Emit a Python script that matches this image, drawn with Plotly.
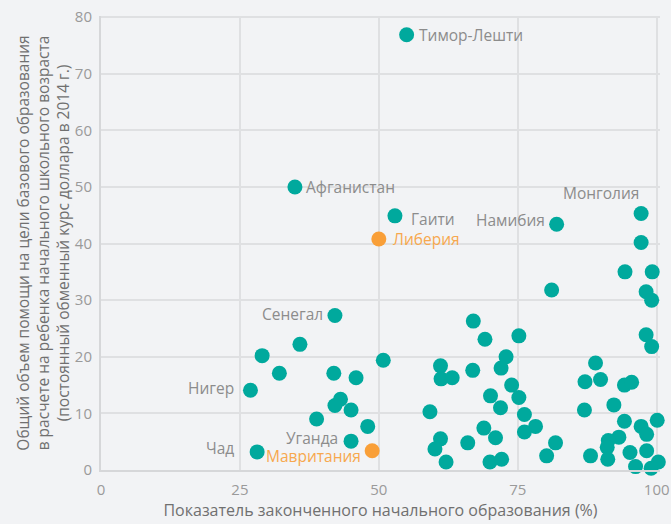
import plotly.graph_objects as go

# Teal series (countries)
teal_x = [55.0, 34.9, 52.9, 82.0, 97.2, 42.1, 26.9, 28.1, 45.0,
          35.8, 29.0, 32.1, 41.9, 45.9, 50.8, 43.1, 42.1, 45.0, 38.8, 48.0,
          67.0, 69.1, 75.2, 72.9, 72.0, 61.1, 61.2, 63.2, 66.9, 73.9, 70.1, 75.2,
          71.9, 59.2, 76.2, 78.2, 76.2, 68.9, 71.0, 61.1, 60.1, 66.0, 62.1, 70.0,
          72.1, 81.8, 80.2,
          81.1, 97.2, 94.3, 99.2, 98.1, 99.1, 98.1, 99.1, 89.0, 87.1, 89.9, 94.2,
          95.5, 92.3, 87.0, 94.2, 100.1, 97.2, 98.2, 93.2, 91.3, 91.1, 91.2, 88.1,
          95.2, 98.2, 96.2, 100.3, 99.0]
teal_y = [76.9, 50.0, 44.9, 43.4, 45.3, 27.3, 14.1, 3.2, 5.1,
          22.2, 20.2, 17.1, 17.1, 16.3, 19.4, 12.5, 11.4, 10.6, 9.0, 7.7,
          26.3, 23.1, 23.7, 20.0, 18.0, 18.4, 16.1, 16.3, 17.6, 15.0, 13.1, 12.8,
          11.0, 10.3, 9.8, 7.7, 6.7, 7.4, 5.7, 5.5, 3.7, 4.8, 1.4, 1.4,
          1.9, 4.8, 2.5,
          31.8, 40.2, 35.0, 35.0, 31.5, 30.0, 23.9, 21.8, 18.9, 15.6, 16.0, 15.0,
          15.5, 11.5, 10.6, 8.6, 8.8, 7.7, 6.3, 5.8, 5.2, 4.0, 1.9, 2.5,
          3.1, 3.4, 0.6, 1.4, 0.3]

# Orange (highlighted) series
orange_x = [50.0, 48.8]
orange_y = [40.8, 3.4]
orange_names = ["Либерия", "Мавритания"]

# Labels for teal points: name, x, y, side
teal_labels = [("Тимор-Лешти", 55.0, 76.9, "right"),
               ("Афганистан", 34.9, 50.0, "right"),
               ("Гаити", 52.9, 44.9, "right"),
               ("Намибия", 82.0, 43.4, "left"),
               ("Монголия", 97.2, 45.3, "top"),
               ("Сенегал", 42.1, 27.3, "left"),
               ("Нигер", 26.9, 14.1, "left"),
               ("Чад", 28.1, 3.2, "left"),
               ("Уганда", 45.0, 5.1, "left")]
orange_sides = ["right", "left"]

x_ticks = [0, 25, 50, 75, 100]
y_ticks = [0, 10, 20, 30, 40, 50, 60, 70, 80]

TEAL = "#00a99d"
ORANGE = "#f99f38"
GRAY_TXT = "#8c8c8c"
BG = "#f2f3f5"
FONT = "Open Sans"

fig = go.Figure()
fig.add_trace(go.Scatter(x=teal_x, y=teal_y, mode="markers", cliponaxis=False,
                         marker=dict(size=15, color=TEAL), hoverinfo="x+y"))
fig.add_trace(go.Scatter(x=orange_x, y=orange_y, mode="markers", cliponaxis=False,
                         marker=dict(size=15, color=ORANGE), hoverinfo="x+y"))

shifts = {
    "Тимор-Лешти": (10, 0), "Афганистан": (9, 0), "Гаити": (14, -3),
    "Намибия": (-10, 4), "Монголия": (0, 21), "Сенегал": (-10, 1),
    "Нигер": (-14, 2), "Чад": (-21, 4), "Уганда": (-11, 3),
    "Либерия": (12, 0), "Мавритания": (-9, -5),
}

def add_label(name, x, y, side, color):
    dx, dy = shifts[name]
    if side == "right":
        xa = "left"
    elif side == "left":
        xa = "right"
    else:
        xa = "center"
        dx = -40
    fig.add_annotation(x=x, y=y, text=name, showarrow=False, xanchor=xa,
                       yanchor="middle", xshift=dx, yshift=dy,
                       font=dict(family=FONT, size=15.5, color=color))

for name, x, y, side in teal_labels:
    add_label(name, x, y, side, GRAY_TXT)
for name, x, y, side in zip(orange_names, orange_x, orange_y, orange_sides):
    add_label(name, x, y, side, "#f7a84e")

axis_common = dict(showgrid=True, gridcolor="#dfe0e2", gridwidth=2,
                   zeroline=False, showline=True, linecolor="#d6d7d9",
                   linewidth=2, ticks="", automargin=False,
                   tickfont=dict(family=FONT, size=15, color="#9a9a9a"))

fig.update_layout(
    width=671, height=524,
    paper_bgcolor=BG, plot_bgcolor=BG,
    showlegend=False,
    margin=dict(l=101, r=11, t=16, b=54),
    font=dict(family=FONT),
    xaxis=dict(range=[0, 100.6], tickvals=x_ticks, ticklabelstandoff=5, **axis_common,
               title=dict(text="Показатель законченного начального образования (%)",
                          font=dict(family=FONT, size=16, color="#707070"),
                          standoff=4)),
    yaxis=dict(range=[0, 80.2], tickvals=y_ticks, ticklabelstandoff=4, **axis_common,
               title=dict(text="Общий объем помощи на цели базового образования<br>"
                               "в расчете на ребенка начального школьного возраста<br>"
                               "(постоянный обменный курс доллара в 2014 г.)",
                          font=dict(family=FONT, size=15.5, color="#707070"),
                          standoff=1)),
)

fig.write_html(
    "out.html",
    config={"displayModeBar": False},
    post_script="document.body.style.margin='0';"
                "document.body.style.background='#f2f3f5';",
)
